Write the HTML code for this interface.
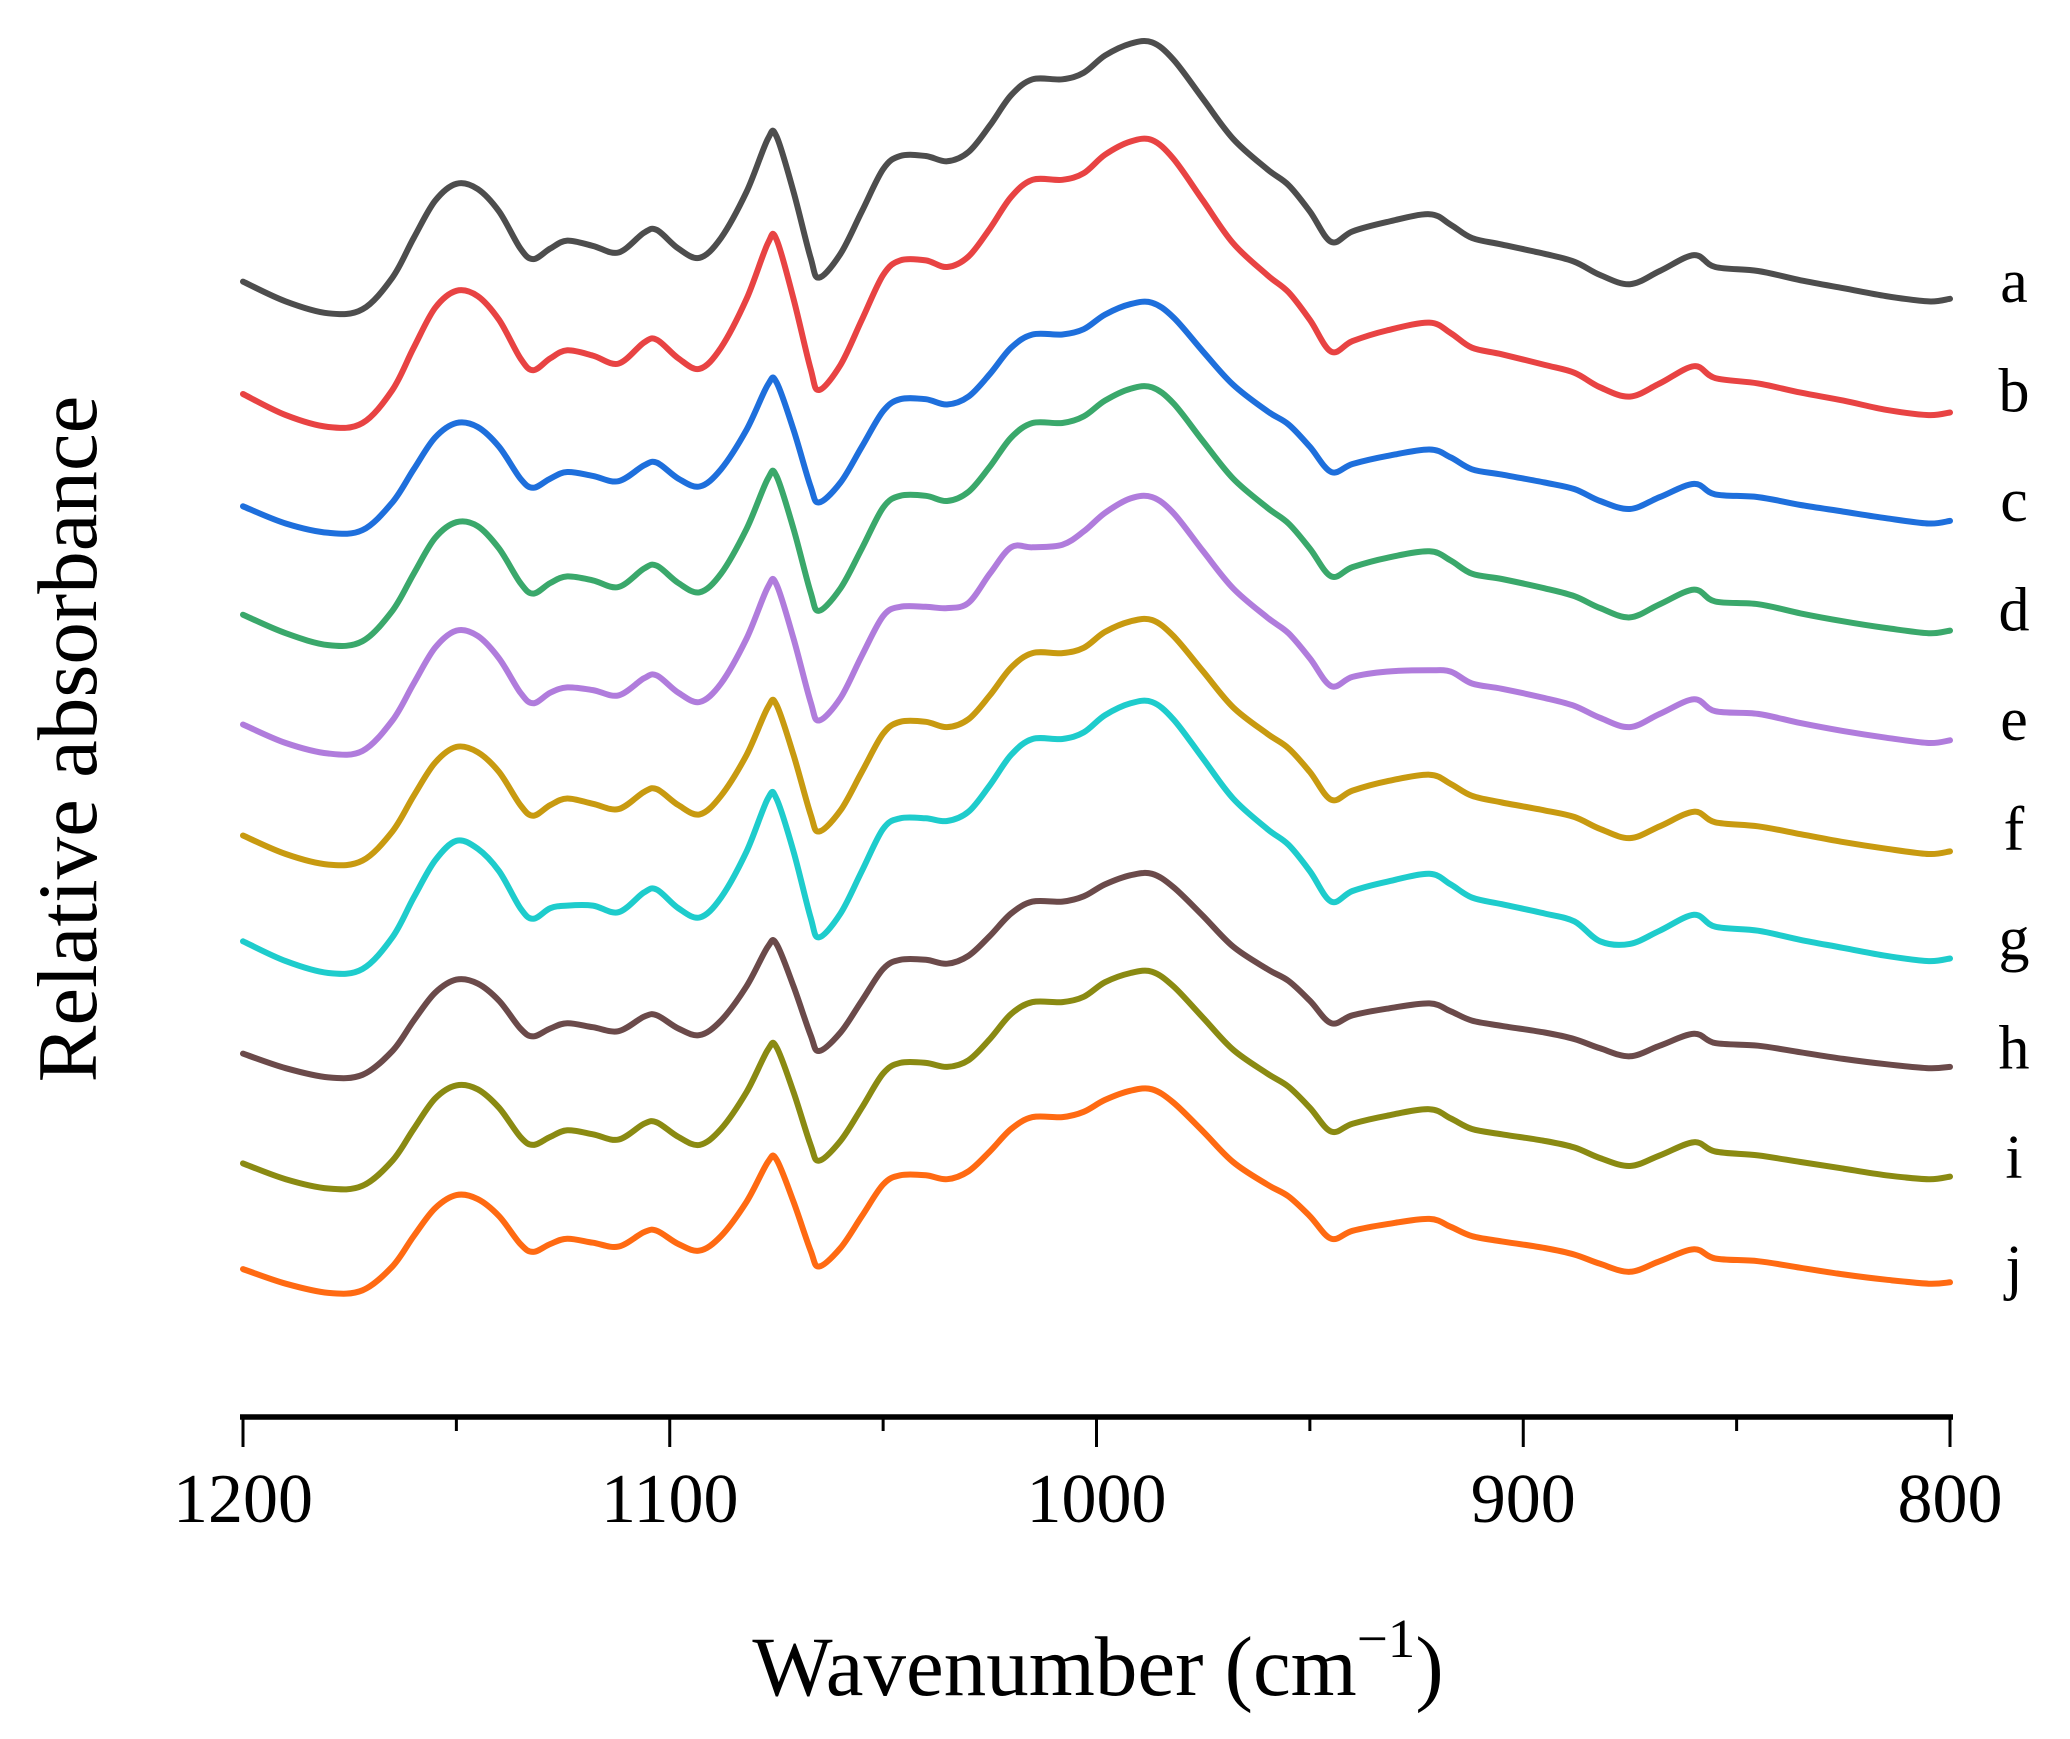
<!DOCTYPE html>
<html><head><meta charset="utf-8"><style>
html,body{margin:0;padding:0;background:#fff;}
svg{display:block;font-family:"Liberation Serif",serif;}
</style></head><body>
<svg id="chart" width="2070" height="1739" viewBox="0 0 2070 1739" xmlns="http://www.w3.org/2000/svg">
<g id="plot"></g>
<g id="axis"></g>
<text transform="translate(96,739) rotate(-90)" text-anchor="middle" font-size="85">Relative absorbance</text>
<text x="1098" y="1695" text-anchor="middle" font-size="85">Wavenumber (cm<tspan font-size="55" dy="-38">−1</tspan><tspan dy="38">)</tspan></text>
</svg>
<script>
const wavenumbers=[1200,1190,1180,1172,1165,1160,1155,1150,1145,1140,1135,1132,1128,1124,1118,1112,1106,1103,1098,1093,1088,1082,1077,1075,1071,1067,1065,1060,1055,1050,1046,1040,1035,1030,1025,1020,1015,1008,1003,998,992,987,982,975,968,960,955,950,945,940,932,922,917,912,905,895,888,882,875,868,860,855,845,835,825,815,805,800];
const seriesA=[0,-15,-24,-21,3,33,61,74,70,53,25,17,25,31,27,22,37,39,25,18,33,68,108,110,68,18,3,21,53,85,95,95,91,98,118,141,153,153,158,171,180,181,168,138,108,85,73,53,30,38,45,51,43,33,28,21,15,5,-2,8,20,11,8,1,-5,-11,-15,-13];
const seriesB=[0,-16,-25,-22,3,35,65,78,74,56,27,18,27,33,29,23,39,41,27,19,35,72,114,117,72,19,3,22,56,90,101,101,96,104,125,149,162,162,167,181,191,192,178,146,114,90,77,56,32,40,48,54,46,35,30,22,16,5,-2,8,21,12,8,1,-5,-12,-16,-14];
const seriesC=[0,-13,-20,-18,3,28,52,63,60,45,21,14,21,26,23,19,31,33,21,15,28,58,92,94,58,15,3,18,45,72,81,81,77,83,100,120,130,130,134,145,153,154,143,117,92,72,62,45,26,32,38,43,37,28,24,18,13,4,-2,7,17,9,7,1,-4,-9,-13,-11];
const seriesD=[0,-14,-23,-20,3,31,58,70,67,50,24,16,24,29,26,21,35,37,24,17,31,65,103,105,65,17,3,20,50,81,90,90,86,93,112,134,145,145,150,162,171,172,160,131,103,81,69,50,29,36,43,48,41,31,27,20,14,5,-2,8,19,10,8,1,-5,-10,-14,-12];
const seriesE=[0,-14,-22,-20,3,31,58,71,67,50,24,16,24,28,26,22,35,37,24,17,31,65,104,106,65,17,3,20,52,82,89,89,88,92,114,134,134,136,146,160,171,172,160,131,103,81,69,50,29,36,40,41,40,31,27,20,14,5,-2,8,19,10,8,1,-5,-10,-14,-12];
const seriesF=[0,-14,-22,-19,3,30,55,67,63,48,23,15,23,28,24,20,33,35,23,16,30,61,97,99,61,16,3,19,48,77,86,86,82,88,106,127,138,138,142,154,162,163,151,124,97,77,66,48,27,34,41,46,39,30,25,19,14,5,-2,7,18,10,7,1,-5,-10,-14,-12];
const seriesG=[0,-15,-24,-21,3,33,61,76,70,53,25,17,25,27,27,22,37,39,25,18,33,68,108,108,68,18,3,21,53,85,93,93,91,98,118,141,153,153,158,171,180,181,168,138,108,85,73,53,30,38,45,51,43,33,28,21,15,0,-2,8,20,11,8,1,-5,-11,-15,-13];
const seriesH=[0,-11,-18,-16,2,25,46,56,53,40,19,13,19,23,20,17,28,29,19,14,25,51,81,83,51,14,2,16,40,64,71,71,68,74,89,106,115,115,119,128,135,136,126,104,81,64,55,40,23,29,34,38,32,25,21,16,11,4,-2,6,15,8,6,1,-4,-8,-11,-10];
const seriesI=[0,-12,-19,-17,2,26,49,59,56,42,20,14,20,25,22,18,30,31,20,14,26,54,86,88,54,14,2,17,42,68,76,76,73,78,94,113,122,122,126,137,144,145,134,110,86,68,58,42,24,30,36,41,34,26,22,17,12,4,-2,6,16,9,6,1,-4,-9,-12,-10];
const seriesJ=[0,-11,-18,-16,2,25,46,56,53,40,19,13,19,23,20,17,28,29,19,14,25,51,81,83,51,14,2,16,40,64,71,71,68,74,89,106,115,115,119,128,135,136,126,104,81,64,55,40,23,29,34,38,32,25,21,16,11,4,-2,6,15,8,6,1,-4,-8,-11,-10];
const seriesLabels=["a","b","c","d","e","f","g","h","i","j"];
const stackOffsets=[213,298,383,465,548,632,712,797,880,960];
const xTicks=[1200,1100,1000,900,800];
const xMinorTicks=[1150,1050,950,850];
const allSeries=[seriesA,seriesB,seriesC,seriesD,seriesE,seriesF,seriesG,seriesH,seriesI,seriesJ];
const colors=["#4d4d4d","#e84343","#1e6fdc","#3aa86b","#b07cdc","#c89a10","#1ecccc","#6b4a4a","#8a8a12","#ff6a12"];

const NS="http://www.w3.org/2000/svg";
function xScale(w){return 243+(1200-w)*(1950-243)/400;}
function yScale(v){return v*1.322;}
const plot=document.getElementById('plot');
const axis=document.getElementById('axis');

function smoothPath(pts){
  let d="M"+pts[0][0].toFixed(1)+","+pts[0][1].toFixed(1);
  for(let i=0;i<pts.length-1;i++){
    const p0=pts[Math.max(0,i-1)],p1=pts[i],p2=pts[i+1],p3=pts[Math.min(pts.length-1,i+2)];
    const c1x=p1[0]+(p2[0]-p0[0])/6,c1y=p1[1]+(p2[1]-p0[1])/6;
    const c2x=p2[0]-(p3[0]-p1[0])/6,c2y=p2[1]-(p3[1]-p1[1])/6;
    d+=" C"+c1x.toFixed(1)+","+c1y.toFixed(1)+" "+c2x.toFixed(1)+","+c2y.toFixed(1)+" "+p2[0].toFixed(1)+","+p2[1].toFixed(1);
  }
  return d;
}

allSeries.forEach((s,k)=>{
  const pts=s.map((v,i)=>[xScale(wavenumbers[i]),yScale(stackOffsets[k]-v)]);
  const p=document.createElementNS(NS,'path');
  p.setAttribute('d',smoothPath(pts));
  p.setAttribute('fill','none');
  p.setAttribute('stroke',colors[k]);
  p.setAttribute('stroke-width','6');
  p.setAttribute('stroke-linejoin','round');
  p.setAttribute('stroke-linecap','round');
  
  
  plot.appendChild(p);
  const t=document.createElementNS(NS,'text');
  t.setAttribute('x','2014');
  t.setAttribute('y',(302+k*109.5).toFixed(1));
  t.setAttribute('text-anchor','middle');
  t.setAttribute('font-size','62');
  t.textContent=seriesLabels[k];
  
  
  plot.appendChild(t);
});

const axY=1417;
const line=document.createElementNS(NS,'line');
line.setAttribute('x1','240');line.setAttribute('x2','1953');
line.setAttribute('y1',axY);line.setAttribute('y2',axY);
line.setAttribute('stroke','#000');line.setAttribute('stroke-width','5.5');


axis.appendChild(line);
xTicks.forEach(w=>{
  const x=xScale(w);
  const tk=document.createElementNS(NS,'line');
  tk.setAttribute('x1',x);tk.setAttribute('x2',x);tk.setAttribute('y1',axY);tk.setAttribute('y2',axY+30);
  tk.setAttribute('stroke','#000');tk.setAttribute('stroke-width','3');
  
  
  axis.appendChild(tk);
  const lb=document.createElementNS(NS,'text');
  lb.setAttribute('x',x);lb.setAttribute('y','1522');
  lb.setAttribute('text-anchor','middle');lb.setAttribute('font-size','70');
  lb.textContent=w;
  
  
  axis.appendChild(lb);
});
xMinorTicks.forEach(w=>{
  const x=xScale(w);
  const tk=document.createElementNS(NS,'line');
  tk.setAttribute('x1',x);tk.setAttribute('x2',x);tk.setAttribute('y1',axY);tk.setAttribute('y2',axY+14);
  tk.setAttribute('stroke','#000');tk.setAttribute('stroke-width','3');
  
  
  axis.appendChild(tk);
});
</script>
</body></html>
